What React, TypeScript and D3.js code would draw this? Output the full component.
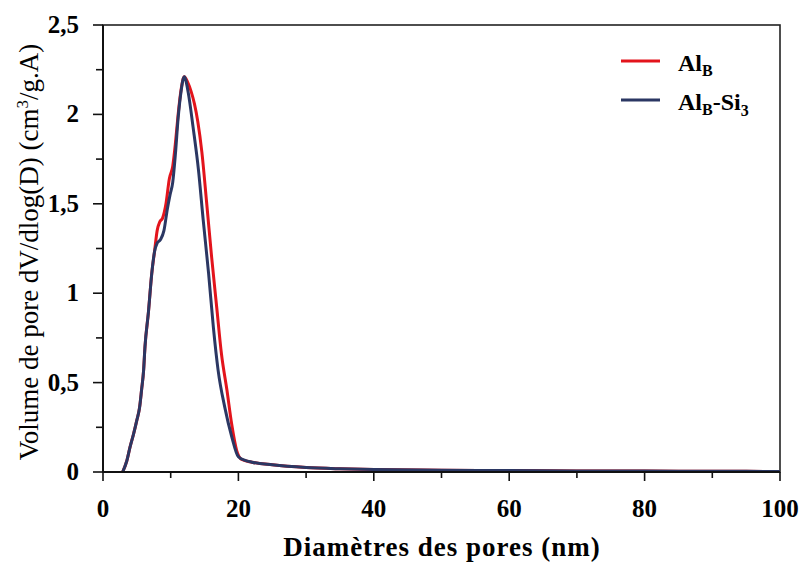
import React, { useRef, useEffect } from "react";
import * as d3 from "d3";

// pore diameters (nm) and dV/dlog(D)
const diamAlB = [2.9, 3.5, 4.0, 4.5, 5.0, 5.4, 5.7, 6.0, 6.2, 6.7, 7.2, 7.6, 8.0, 8.4, 8.8, 9.3, 9.8, 10.3, 10.7, 11.1, 11.5, 12.0, 12.5, 13.0, 13.5, 14.0, 14.6, 15.3, 16.05, 16.8, 17.5, 18.3, 19.0, 19.75, 20.5, 22, 25, 30, 35, 40, 50, 60, 70, 80, 90, 100];
const volAlB = [0.0, 0.06, 0.14, 0.21, 0.29, 0.36, 0.46, 0.57, 0.7, 0.89, 1.11, 1.23, 1.35, 1.4, 1.42, 1.5, 1.64, 1.71, 1.84, 2.0, 2.13, 2.21, 2.18, 2.13, 2.06, 1.96, 1.79, 1.51, 1.2, 0.92, 0.66, 0.46, 0.27, 0.12, 0.07, 0.055, 0.04, 0.025, 0.018, 0.014, 0.01, 0.008, 0.006, 0.005, 0.004, 0.003];

const diamAlBSi3 = [2.9, 3.5, 4.0, 4.5, 5.0, 5.4, 5.7, 6.0, 6.2, 6.7, 7.2, 7.6, 8.0, 8.5, 9.0, 9.5, 9.9, 10.3, 10.7, 11.1, 11.5, 12.0, 12.6, 13.3, 14.1, 14.8, 15.6, 16.3, 17.0, 18.0, 19.0, 20.0, 21, 22, 25, 30, 35, 40, 50, 60, 70, 80, 90, 100];
const volAlBSi3 = [0.0, 0.06, 0.14, 0.21, 0.29, 0.36, 0.46, 0.57, 0.7, 0.89, 1.11, 1.23, 1.28, 1.3, 1.35, 1.47, 1.55, 1.62, 1.78, 1.98, 2.12, 2.21, 2.12, 1.93, 1.69, 1.41, 1.11, 0.81, 0.57, 0.36, 0.2, 0.085, 0.065, 0.055, 0.04, 0.025, 0.018, 0.014, 0.01, 0.008, 0.006, 0.005, 0.004, 0.003];

const xTicks = [0, 20, 40, 60, 80, 100];
const xMinor = [10, 30, 50, 70, 90];
const yTicks = [0, 0.5, 1, 1.5, 2, 2.5];
const yTickLabels = ["0", "0,5", "1", "1,5", "2", "2,5"];
const yMinor = [0.25, 0.75, 1.25, 1.75, 2.25];

const series = [
  { name: "Al", sub: "B", tail: "", tailSub: "", color: "#e3141c", x: diamAlB, y: volAlB },
  { name: "Al", sub: "B", tail: "-Si", tailSub: "3", color: "#2b3763", x: diamAlBSi3, y: volAlBSi3 },
];

export default function App() {
  const ref = useRef(null);

  const width = 801;
  const height = 562;
  const left = 103;
  const right = 780;
  const top = 25;
  const bottom = 472;

  const x = d3.scaleLinear().domain([0, 100]).range([left, right]);
  const y = d3.scaleLinear().domain([0, 2.5]).range([bottom, top]);

  useEffect(() => {
    const vis = d3.select(ref.current);
    vis.selectAll("*").remove();
    const font = "'Liberation Serif', 'Times New Roman', serif";

    // frame
    vis
      .append("rect")
      .attr("x", left)
      .attr("y", top)
      .attr("width", right - left)
      .attr("height", bottom - top)
      .attr("fill", "none")
      .attr("stroke", "#222")
      .attr("stroke-width", 1.6);

    const line = d3
      .line()
      .x((d) => x(d[0]))
      .y((d) => y(d[1]))
      .curve(d3.curveMonotoneX);

    series.forEach((s) => {
      vis
        .append("path")
        .datum(s.x.map((v, i) => [v, s.y[i]]))
        .attr("d", line)
        .attr("fill", "none")
        .attr("stroke", s.color)
        .attr("stroke-width", 3)
        .attr("stroke-linejoin", "round");
    });

    // axes
    vis
      .append("line")
      .attr("x1", left)
      .attr("x2", right)
      .attr("y1", bottom)
      .attr("y2", bottom)
      .attr("stroke", "#111")
      .attr("stroke-width", 2);
    vis
      .append("line")
      .attr("x1", left)
      .attr("x2", left)
      .attr("y1", top)
      .attr("y2", bottom)
      .attr("stroke", "#111")
      .attr("stroke-width", 2);

    const ticks = vis.append("g").attr("stroke", "#111").attr("stroke-width", 1.6);
    xTicks.forEach((t) =>
      ticks.append("line").attr("x1", x(t)).attr("x2", x(t)).attr("y1", bottom).attr("y2", bottom + 9)
    );
    xMinor.forEach((t) =>
      ticks.append("line").attr("x1", x(t)).attr("x2", x(t)).attr("y1", bottom).attr("y2", bottom + 6)
    );
    yTicks.forEach((t) =>
      ticks.append("line").attr("x1", left - 10).attr("x2", left).attr("y1", y(t)).attr("y2", y(t))
    );
    yMinor.forEach((t) =>
      ticks.append("line").attr("x1", left - 7).attr("x2", left).attr("y1", y(t)).attr("y2", y(t))
    );

    vis
      .append("g")
      .selectAll("text")
      .data(xTicks)
      .join("text")
      .attr("x", (d) => x(d))
      .attr("y", 517)
      .attr("text-anchor", "middle")
      .attr("font-family", font)
      .attr("font-weight", "bold")
      .attr("font-size", 25)
      .text((d) => d);

    vis
      .append("g")
      .selectAll("text")
      .data(yTicks)
      .join("text")
      .attr("x", 79)
      .attr("y", (d) => y(d) + 8)
      .attr("text-anchor", "end")
      .attr("font-family", font)
      .attr("font-weight", "bold")
      .attr("font-size", 25)
      .text((d, i) => yTickLabels[i]);

    vis
      .append("text")
      .attr("x", 442)
      .attr("y", 556)
      .attr("text-anchor", "middle")
      .attr("font-family", font)
      .attr("font-weight", "bold")
      .attr("font-size", 27)
      .attr("letter-spacing", 1)
      .text("Diamètres des pores (nm)");

    const yTitle = vis
      .append("text")
      .attr("transform", "translate(38,252) rotate(-90)")
      .attr("text-anchor", "middle")
      .attr("font-family", font)
      .attr("font-size", 27);
    yTitle.append("tspan").text("Volume de pore dV/dlog(D) (cm");
    yTitle.append("tspan").attr("font-size", 17).attr("dy", -10).text("3");
    yTitle.append("tspan").attr("dy", 10).text("/g.A)");

    // legend
    series.forEach((s, i) => {
      const ly = 61 + i * 39;
      vis
        .append("line")
        .attr("x1", 621)
        .attr("x2", 660)
        .attr("y1", ly)
        .attr("y2", ly)
        .attr("stroke", s.color)
        .attr("stroke-width", 3);
      const t = vis
        .append("text")
        .attr("x", 678)
        .attr("y", ly + 10)
        .attr("font-family", font)
        .attr("font-weight", "bold")
        .attr("font-size", 24);
      t.append("tspan").text(s.name);
      t.append("tspan").attr("font-size", 16).attr("dy", 5).text(s.sub);
      if (s.tail) {
        t.append("tspan").attr("dy", -5).text(s.tail);
        t.append("tspan").attr("font-size", 16).attr("dy", 6).text(s.tailSub);
      }
    });
  }, []);

  return (
    <svg
      width={width}
      height={height}
      ref={ref}
      style={{ position: "absolute", left: 0, top: 0, background: "#fff" }}
    ></svg>
  );
}
